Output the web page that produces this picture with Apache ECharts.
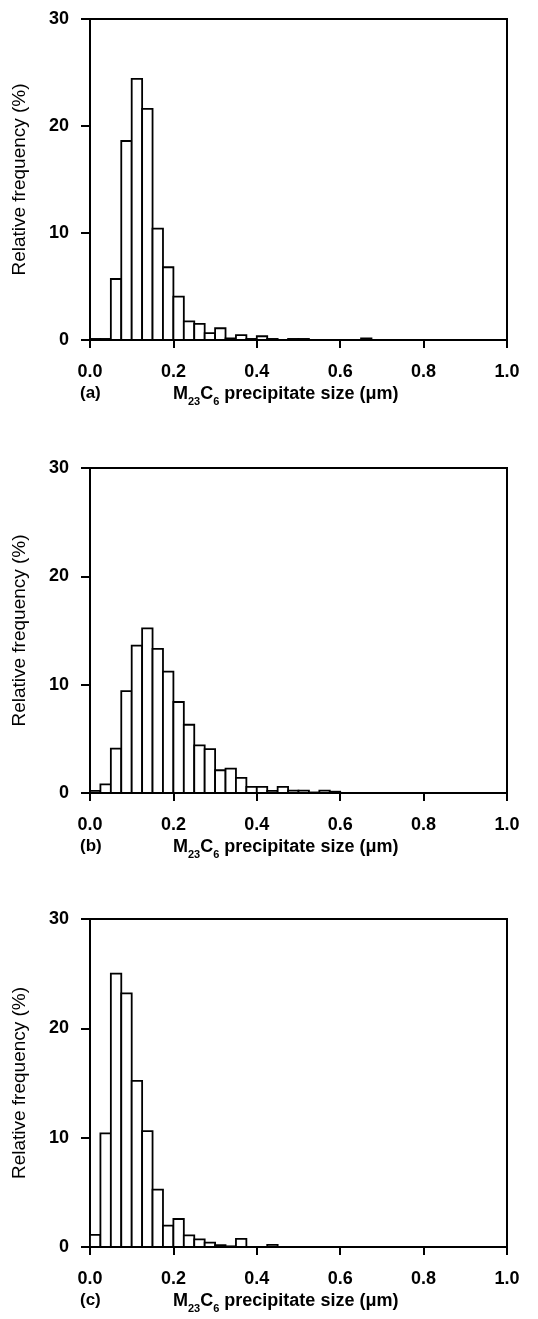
<!DOCTYPE html>
<html>
<head>
<meta charset="utf-8">
<script src="https://cdn.jsdelivr.net/npm/echarts@6/dist/echarts.min.js"></script>
<style>
  html, body { margin: 0; padding: 0; background: #fff; }
  #chart { width: 538px; height: 1319px; }
</style>
</head>
<body>
<div id="chart"></div>
<script>
// lower edge of each size bin (um), bins are 0.025 wide
var binStart = [0.000, 0.025, 0.050, 0.075, 0.100, 0.125, 0.150, 0.175, 0.200, 0.225,
                0.250, 0.275, 0.300, 0.325, 0.350, 0.375, 0.400, 0.425, 0.450, 0.475,
                0.500, 0.525, 0.550, 0.575, 0.600, 0.625, 0.650, 0.675]
var binWidth = 0.025

// relative frequency (%) per bin, panels (a) (b) (c)
var freqA = [0.1, 0.1, 5.7, 18.6, 24.4, 21.6, 10.4, 6.8, 4.05, 1.75,
             1.5, 0.65, 1.1, 0.15, 0.45, 0.1, 0.35, 0.1, 0, 0.1,
             0.1, 0, 0, 0, 0, 0, 0.15, 0]
var freqB = [0.2, 0.8, 4.1, 9.4, 13.6, 15.2, 13.3, 11.2, 8.4, 6.3,
             4.4, 4.05, 2.1, 2.25, 1.4, 0.57, 0.57, 0.2, 0.57, 0.22,
             0.22, 0.05, 0.22, 0.12, 0, 0, 0, 0]
var freqC = [1.1, 10.4, 25.0, 23.2, 15.2, 10.6, 5.25, 1.95, 2.56, 1.07,
             0.7, 0.4, 0.18, 0.06, 0.75, 0, 0, 0.2, 0, 0,
             0, 0, 0, 0, 0, 0, 0, 0]

var panelLetters = ['(a)', '(b)', '(c)']
var xTitle = 'M{s|23}C{s|6} precipitate size (μm)'
var yTitle = 'Relative frequency (%)'

var font = '"Liberation Sans", Arial, sans-serif'
var black = '#000'

var chart = echarts.init(document.getElementById('chart'), null, {renderer: 'canvas'})

// panel boxes
var grids = [
  {left: 90, top: 19, width: 417, height: 321},
  {left: 90, top: 468, width: 417, height: 325},
  {left: 90, top: 919, width: 417, height: 328}
]

function renderBin(params, api) {
  var x0 = api.value(0)
  var h = api.value(1)
  if (!h) return null
  var p0 = api.coord([x0, 0])
  var p1 = api.coord([x0 + binWidth, h])
  return {
    type : 'rect',
    shape: {x: p0[0], y: p1[1], width: p1[0] - p0[0], height: p0[1] - p1[1]},
    style: {fill: '#fff', stroke: black, lineWidth: 1.8}
  }
}

var xAxes = [], yAxes = [], series = [], titles = []
var allFreq = [freqA, freqB, freqC]

grids.forEach(function(g, i) {
  g.show = true
  g.borderColor = black
  g.borderWidth = 2
  g.backgroundColor = 'transparent'

  xAxes.push({
    gridIndex: i,
    type     : 'value',
    min      : 0,
    max      : 1,
    interval : 0.2,
    axisLine : {onZero: false, lineStyle: {color: black, width: 2}},
    axisTick : {inside: false, length: 8, lineStyle: {color: black, width: 2}},
    splitLine: {show: false},
    axisLabel: {
      margin: 23, color: black, fontSize: 18, fontWeight: 'bold', fontFamily: font,
      formatter: function(v) { return v.toFixed(1) }
    }
  })
  yAxes.push({
    gridIndex   : i,
    type        : 'value',
    min         : 0,
    max         : 30,
    interval    : 10,
    name        : yTitle,
    nameLocation: 'middle',
    nameGap     : 61,
    nameTextStyle: {color: black, fontSize: 19, fontFamily: font},
    axisLine : {lineStyle: {color: black, width: 2}},
    axisTick : {inside: false, length: 9, lineStyle: {color: black, width: 2}},
    splitLine: {show: false},
    axisLabel: {margin: 21, color: black, fontSize: 18, fontWeight: 'bold', fontFamily: font}
  })

  var pts = []
  for (var k = 0; k < binStart.length; k++) pts.push([binStart[k], allFreq[i][k]])
  series.push({
    type      : 'custom',
    xAxisIndex: i,
    yAxisIndex: i,
    renderItem: renderBin,
    encode    : {x: 0, y: 1},
    data      : pts,
    silent    : true
  })

  var labelTop = g.top + g.height + 40
  titles.push({
    text: panelLetters[i], left: 75, top: labelTop,
    textStyle: {color: black, fontSize: 17, fontWeight: 'bold', fontFamily: font}
  })
  titles.push({
    text: xTitle, left: 168, top: labelTop - 3,
    textStyle: {
      color: black, fontSize: 18, fontWeight: 'bold', fontFamily: font,
      rich: {s: {fontSize: 11, fontWeight: 'bold', fontFamily: font, verticalAlign: 'bottom', lineHeight: 25}}
    }
  })
})

chart.setOption({
  animation: false,
  backgroundColor: '#fff',
  title : titles,
  grid  : grids,
  xAxis : xAxes,
  yAxis : yAxes,
  series: series
})
</script>
</body>
</html>
